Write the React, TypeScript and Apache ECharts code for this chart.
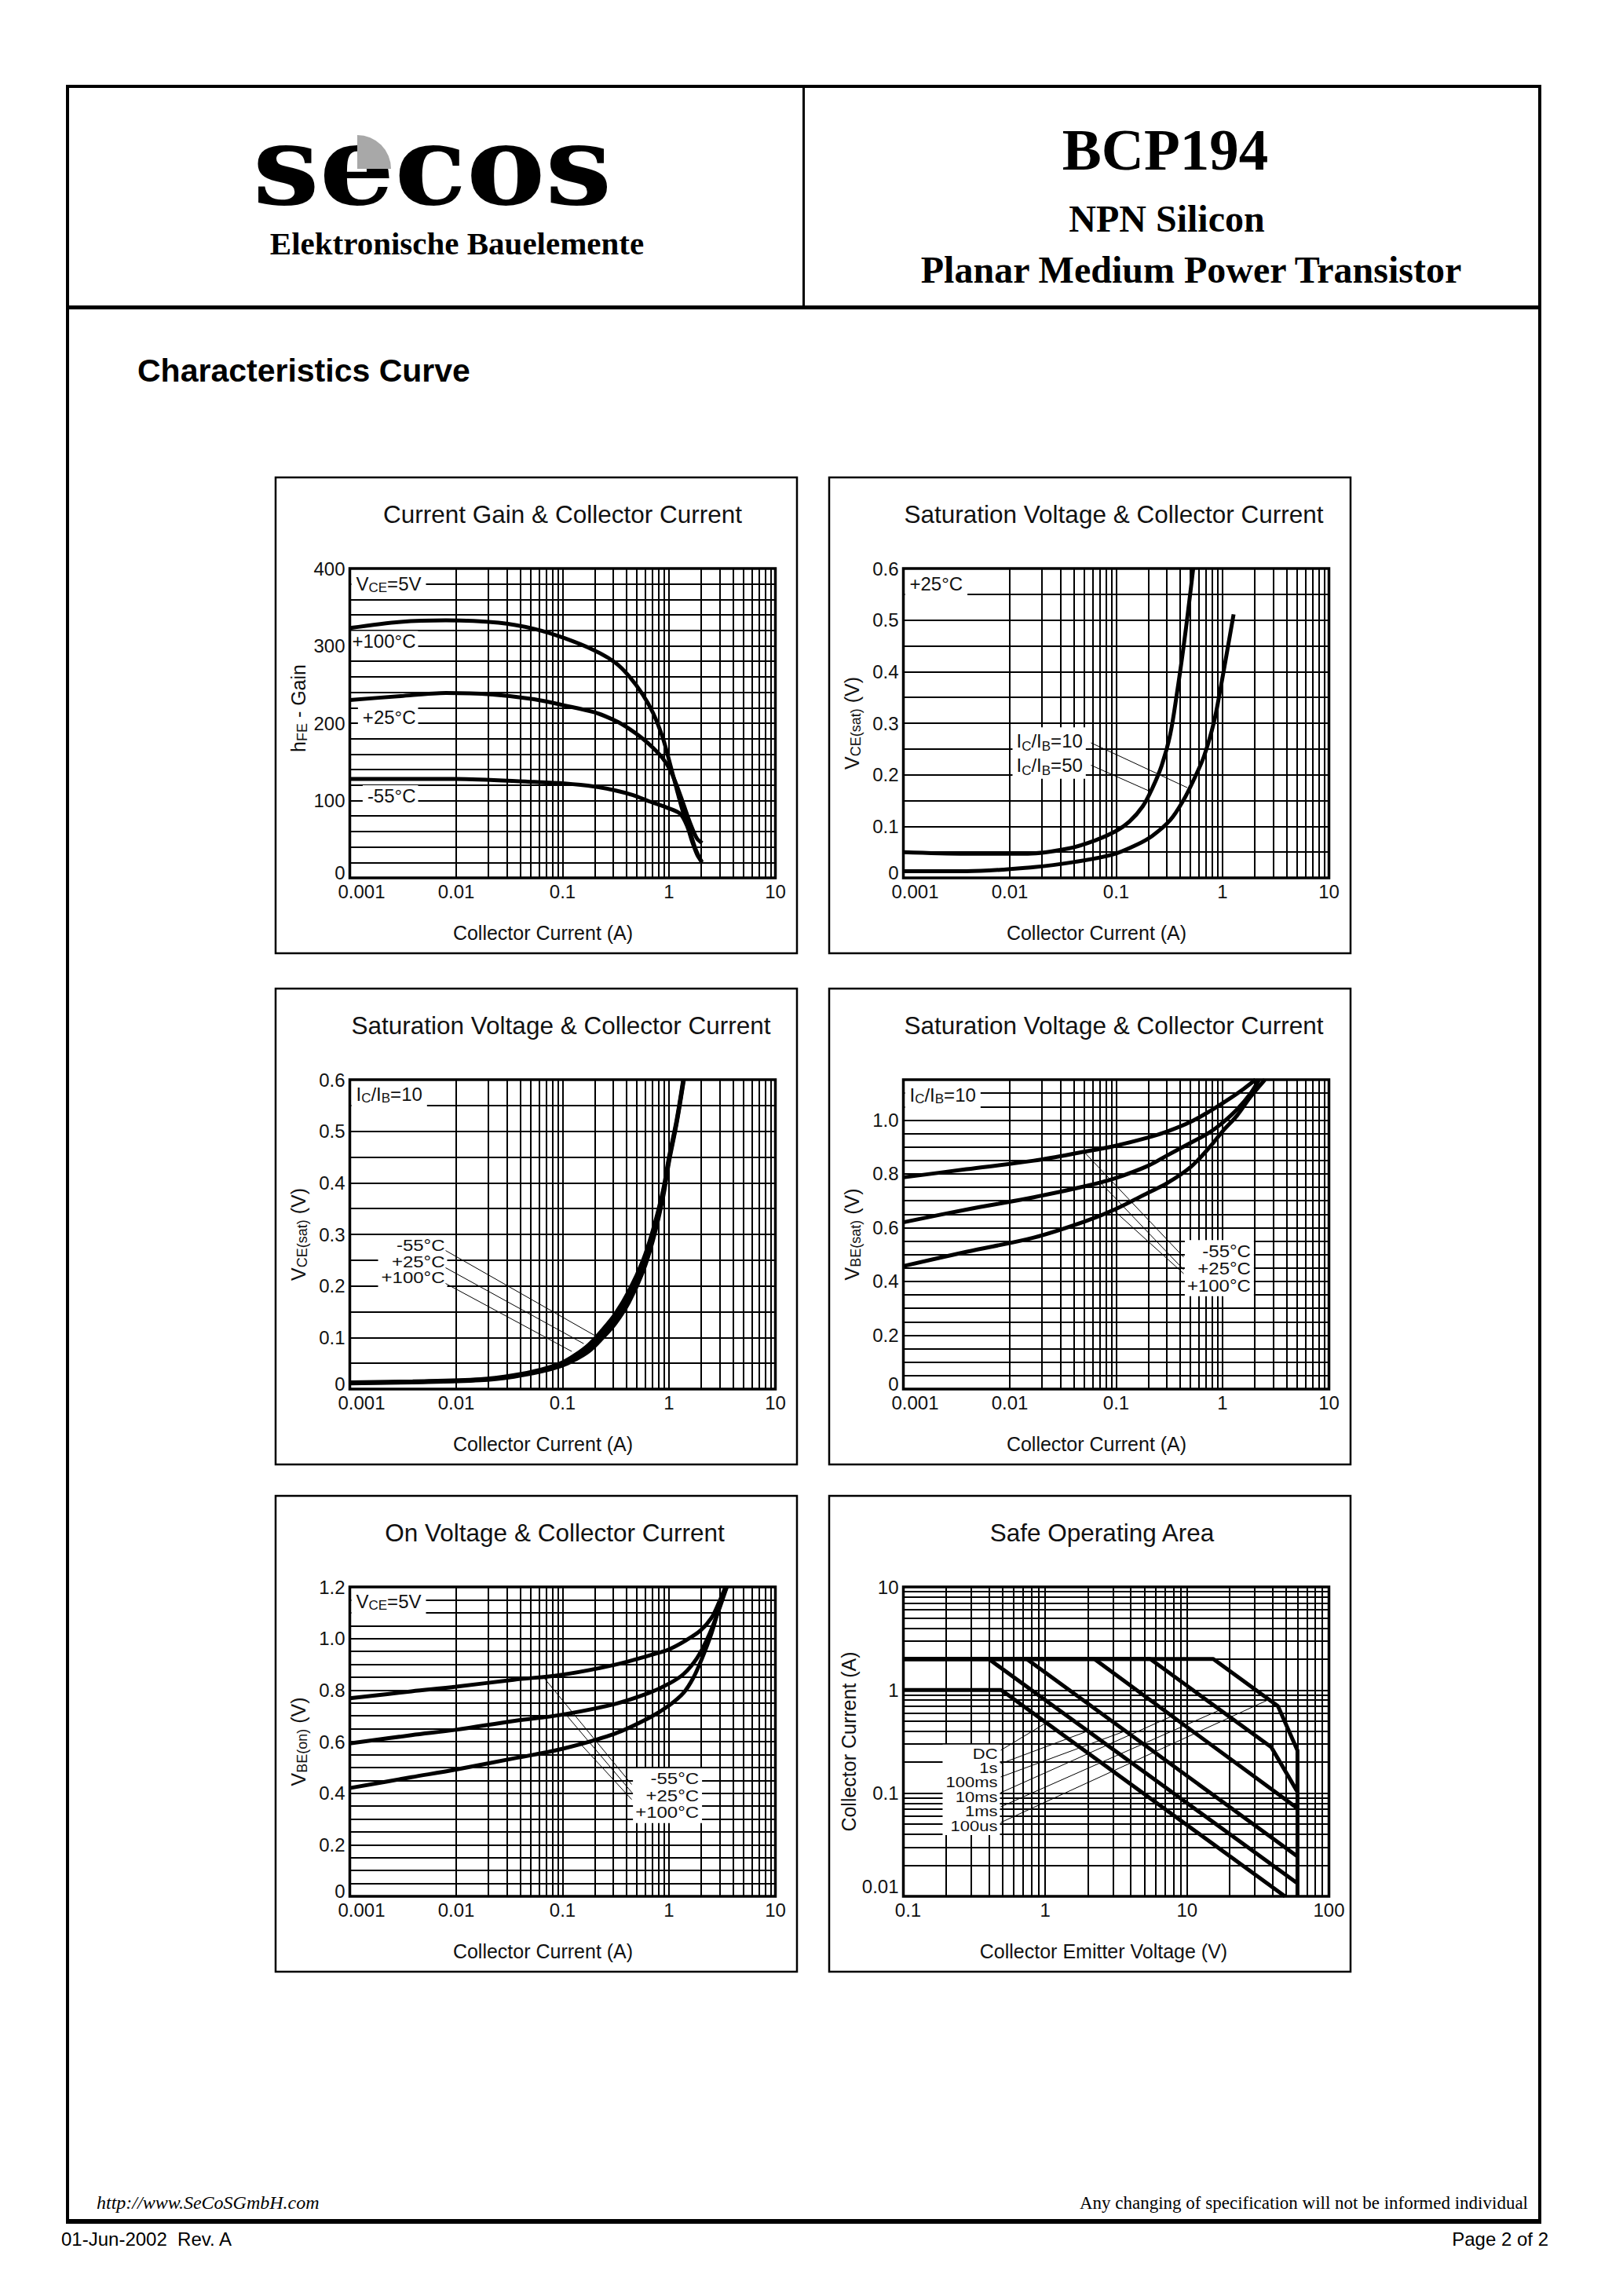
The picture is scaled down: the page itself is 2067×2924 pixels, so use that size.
import React, { useEffect, useRef } from "react";
import * as echarts from "echarts";

// ---------------- tick labels ----------------
const IC_TICKS = ["0.001", "0.01", "0.1", "1", "10"];
const VCE_TICKS = ["0.1", "1", "10", "100"];
const SOA_IC_TICKS = ["0.01", "0.1", "1", "10"];
const LOG_STEPS = [1, 2, 3, 4, 5, 6, 7, 8, 9];

// ---------------- chart 1: hFE vs Ic ----------------
const HFE_P100 = [[0.001, 323], [0.003, 331], [0.008, 333], [0.025, 330], [0.054, 322], [0.104, 310], [0.2, 294], [0.315, 278], [0.42, 261], [0.567, 237], [0.71, 213], [0.88, 180], [1.02, 148], [1.18, 115], [1.37, 83], [1.58, 59], [1.77, 38], [2.0, 22]];
const HFE_P25 = [[0.001, 230], [0.003, 235], [0.008, 239], [0.022, 237], [0.054, 231], [0.104, 223], [0.2, 214], [0.315, 203], [0.42, 193], [0.567, 180], [0.71, 168], [0.88, 154], [1.02, 140], [1.18, 120], [1.37, 95], [1.58, 71], [1.83, 51], [2.05, 45]];
const HFE_M55 = [[0.001, 128], [0.01, 128], [0.054, 124], [0.104, 122], [0.2, 118], [0.315, 113], [0.46, 107], [0.65, 99], [0.95, 91], [1.27, 83], [1.48, 67], [1.65, 47], [1.84, 30], [2.05, 20]];

// ---------------- chart 2: VCE(sat) vs Ic, +25C ----------------
const VCESAT_B10 = [[0.001, 0.05], [0.0039, 0.047], [0.0148, 0.047], [0.0357, 0.057], [0.064, 0.073], [0.1, 0.091], [0.133, 0.109], [0.178, 0.139], [0.22, 0.175], [0.268, 0.218], [0.322, 0.278], [0.372, 0.357], [0.43, 0.448], [0.48, 0.526], [0.53, 0.6]];
const VCESAT_B50 = [[0.001, 0.013], [0.0039, 0.013], [0.017, 0.021], [0.041, 0.031], [0.092, 0.045], [0.155, 0.064], [0.22, 0.082], [0.322, 0.112], [0.43, 0.151], [0.53, 0.188], [0.67, 0.236], [0.83, 0.302], [0.96, 0.369], [1.11, 0.442], [1.27, 0.511]];

// ---------------- chart 3: VCE(sat) vs Ic, Ic/Ib = 10 ----------------
const VCESAT_M55 = [[0.001, 0.013], [0.0039, 0.015], [0.0168, 0.019], [0.035, 0.027], [0.063, 0.038], [0.098, 0.051], [0.131, 0.066], [0.176, 0.086], [0.235, 0.114], [0.313, 0.146], [0.42, 0.19], [0.57, 0.25], [0.71, 0.31], [0.88, 0.386], [1.0, 0.45], [1.18, 0.522], [1.36, 0.6]];
const VCESAT_P25 = [[0.001, 0.012], [0.0039, 0.014], [0.0168, 0.018], [0.035, 0.0255], [0.063, 0.036], [0.098, 0.048], [0.131, 0.061], [0.176, 0.079], [0.235, 0.106], [0.313, 0.136], [0.42, 0.179], [0.57, 0.239], [0.71, 0.3], [0.88, 0.379], [1.0, 0.445], [1.18, 0.518], [1.37, 0.6]];
const VCESAT_P100 = [[0.001, 0.011], [0.0039, 0.013], [0.0168, 0.017], [0.035, 0.024], [0.063, 0.034], [0.098, 0.045], [0.131, 0.057], [0.176, 0.073], [0.235, 0.098], [0.313, 0.127], [0.42, 0.168], [0.57, 0.228], [0.71, 0.29], [0.88, 0.372], [1.0, 0.44], [1.18, 0.515], [1.38, 0.6]];

// ---------------- chart 4: VBE(sat) vs Ic ----------------
const VBESAT_M55 = [[0.001, 0.787], [0.0039, 0.817], [0.0168, 0.849], [0.05, 0.882], [0.1, 0.905], [0.2, 0.935], [0.3, 0.957], [0.5, 0.993], [0.76, 1.033], [1.18, 1.081], [1.58, 1.116], [2.04, 1.15]];
const VBESAT_P25 = [[0.001, 0.62], [0.0039, 0.667], [0.0168, 0.713], [0.0537, 0.756], [0.1, 0.785], [0.2, 0.83], [0.3, 0.868], [0.5, 0.915], [0.76, 0.955], [1.0, 0.99], [1.37, 1.04], [1.84, 1.1], [2.2, 1.15]];
const VBESAT_P100 = [[0.001, 0.457], [0.0039, 0.51], [0.0168, 0.563], [0.05, 0.622], [0.1, 0.67], [0.2, 0.73], [0.3, 0.765], [0.5, 0.825], [0.76, 0.9], [1.0, 0.958], [1.37, 1.017], [1.84, 1.087], [2.5, 1.15]];

// ---------------- chart 5: VBE(on) vs Ic ----------------
const VBEON_M55 = [[0.001, 0.768], [0.0038, 0.795], [0.01, 0.813], [0.0346, 0.84], [0.097, 0.859], [0.31, 0.898], [0.65, 0.934], [1.0, 0.958], [1.46, 0.994], [1.98, 1.031], [2.5, 1.079], [2.95, 1.14], [3.4, 1.2]];
const VBEON_P25 = [[0.001, 0.593], [0.0038, 0.625], [0.01, 0.646], [0.0346, 0.68], [0.097, 0.704], [0.31, 0.746], [0.65, 0.789], [1.0, 0.825], [1.37, 0.862], [1.84, 0.925], [2.3, 1.0], [2.88, 1.1], [3.3, 1.17], [3.5, 1.2]];
const VBEON_P100 = [[0.001, 0.42], [0.0038, 0.462], [0.01, 0.492], [0.0346, 0.535], [0.097, 0.571], [0.31, 0.631], [0.65, 0.692], [1.0, 0.74], [1.37, 0.789], [1.7, 0.849], [2.04, 0.922], [2.5, 1.018], [2.88, 1.103], [3.3, 1.176], [3.5, 1.2]];

// ---------------- chart 6: Safe Operating Area ----------------
const SOA_DC = [[0.1, 1], [0.49, 1], [49, 0.01]];
const SOA_1S = [[0.1, 2], [0.4, 2], [59, 0.0136]];
const SOA_100MS = [[0.1, 2], [0.74, 2], [59.5, 0.0246]];
const SOA_10MS = [[0.1, 2], [2.22, 2], [59.5, 0.072]];
const SOA_1MS = [[0.1, 2], [5.5, 2], [39.2, 0.28], [59.5, 0.105]];
const SOA_100US = [[0.1, 2], [15.3, 2], [43.7, 0.7], [60, 0.26], [60, 0.01]];

// ---------------- styling / layout ----------------
const FONT = '"Liberation Sans", Arial, Helvetica, sans-serif';
const SERIF = '"Liberation Serif", "Times New Roman", serif';
const INK = "#111";
const PAGE_W = 2067;
const PAGE_H = 2924;
const BOX_W = 664;
const BOX_H = 606;
const PLOT_DX = 94.5;
const PLOT_DY = 116;
const PLOT_W = 542;
const PLOT_H = 394;
const BOXES = [[351, 608], [1056, 608], [351, 1259], [1056, 1259], [351, 1905], [1056, 1905]];

function logGrid(lo: number, decades: number) {
  const out: number[] = [];
  for (let d = 0; d < decades; d++) {
    const base = lo * Math.pow(10, d);
    for (const m of LOG_STEPS) out.push(+(base * m).toPrecision(6));
  }
  out.push(+(lo * Math.pow(10, decades)).toPrecision(6));
  return out;
}
function linGrid(max: number, step: number) {
  const out: number[] = [];
  for (let k = 0; k * step <= max + 1e-9; k++) out.push(+(k * step).toFixed(4));
  return out;
}
function pickTick(labels: string[], v: number) {
  for (const l of labels) if (Math.abs(Math.log10(+l) - Math.log10(v)) < 1e-4) return l;
  return "";
}

const IC_GRID = logGrid(0.001, 4);
const VCE_GRID = logGrid(0.1, 3);
const SOA_IC_GRID = logGrid(0.01, 3);
const HFE_GRID = linGrid(400, 20);
const VSAT_GRID = linGrid(0.6, 0.05);
const VBES_GRID = linGrid(1.15, 0.05);
const VBEON_GRID = linGrid(1.2, 0.05);

const ICIB10 = "{n|I}{s|C}{n|/I}{s|B}{n|=10}";
const ICIB50 = "{n|I}{s|C}{n|/I}{s|B}{n|=50}";
const VCE5V = "{n|V}{s|CE}{n|=5V}";
const TEMPS = "-55°C\n+25°C\n+100°C";

const zeroFmt = (v: number, dec: number) => (Math.abs(v) < 1e-9 ? "{z|0}" : dec === 0 ? String(Math.round(v)) : v.toFixed(dec));

type Note = { text: string; x: number; y: number; align: "left" | "right"; lh: number; pad: number[]; size?: number };
type Leader = { from: number[]; to: number[] };

const CHARTS: any[] = [
  {
    title: "Current Gain & Collector Current", titleDx: 0,
    xMin: 0.001, xMax: 10, xTicks: IC_TICKS, xGrid: IC_GRID, xFirstPad: 30, xName: "Collector Current (A)", xNamePad: 50,
    yLog: false, yMin: 0, yMax: 400, yInterval: 100, yGrid: HFE_GRID, yDec: 0,
    yName: "{n|h}{s|FE}{n| - Gain}", yNamePad: [0, 0, 0, 38], yNameGap: 52,
    curves: [HFE_P100, HFE_P25, HFE_M55], smooth: 0.3,
    notes: [
      { text: VCE5V, x: 8, y: 19, align: "left", lh: 28, pad: [3, 6, 3, 6] },
      { text: "+100°C", x: 84, y: 92.6, align: "right", lh: 24, pad: [1, 3, 1, 6] },
      { text: "+25°C", x: 84, y: 189, align: "right", lh: 24, pad: [1, 3, 1, 6] },
      { text: "-55°C", x: 84, y: 289, align: "right", lh: 24, pad: [1, 3, 1, 6] },
    ] as Note[],
    leaders: [] as Leader[],
  },
  {
    title: "Saturation Voltage & Collector Current", titleDx: -3,
    xMin: 0.001, xMax: 10, xTicks: IC_TICKS, xGrid: IC_GRID, xFirstPad: 30, xName: "Collector Current (A)", xNamePad: 50,
    yLog: false, yMin: 0, yMax: 0.6, yInterval: 0.1, yGrid: VSAT_GRID, yDec: 1,
    yName: "{n|V}{s|CE(sat)}{n| (V)}", yNamePad: [0, 0, 0, 0], yNameGap: 52,
    curves: [VCESAT_B10, VCESAT_B50], smooth: 0.35,
    notes: [
      { text: "+25°C", x: 8, y: 19, align: "left", lh: 28, pad: [3, 6, 3, 6] },
      { text: ICIB10 + "\n" + ICIB50, x: 144, y: 219.6, align: "left", lh: 30.7, pad: [2, 4, 2, 5] },
    ] as Note[],
    leaders: [
      { from: [239, 222], to: [0.466, 0.175] },
      { from: [239, 250.5], to: [0.207, 0.168] },
    ] as Leader[],
  },
  {
    title: "Saturation Voltage & Collector Current", titleDx: -2,
    xMin: 0.001, xMax: 10, xTicks: IC_TICKS, xGrid: IC_GRID, xFirstPad: 30, xName: "Collector Current (A)", xNamePad: 50,
    yLog: false, yMin: 0, yMax: 0.6, yInterval: 0.1, yGrid: VSAT_GRID, yDec: 1,
    yName: "{n|V}{s|CE(sat)}{n| (V)}", yNamePad: [0, 0, 0, 0], yNameGap: 52,
    curves: [VCESAT_M55, VCESAT_P25, VCESAT_P100], smooth: 0.35,
    notes: [
      { text: ICIB10, x: 8, y: 18, align: "left", lh: 28, pad: [3, 6, 3, 6] },
      { text: TEMPS, x: 121, y: 211.6, align: "right", lh: 20.5, pad: [3, 3, 3, 4] },
    ] as Note[],
    leaders: [
      { from: [122, 217.6], to: [0.204, 0.103] },
      { from: [122, 239.5], to: [0.158, 0.088] },
      { from: [122, 259.5], to: [0.122, 0.073] },
    ] as Leader[],
  },
  {
    title: "Saturation Voltage & Collector Current", titleDx: -3,
    xMin: 0.001, xMax: 10, xTicks: IC_TICKS, xGrid: IC_GRID, xFirstPad: 30, xName: "Collector Current (A)", xNamePad: 50,
    yLog: false, yMin: 0, yMax: 1.15, yInterval: 0.2, yGrid: VBES_GRID, yDec: 1,
    yName: "{n|V}{s|BE(sat)}{n| (V)}", yNamePad: [0, 0, 0, 0], yNameGap: 52,
    curves: [VBESAT_M55, VBESAT_P25, VBESAT_P100], smooth: 0.35,
    notes: [
      { text: ICIB10, x: 8, y: 19, align: "left", lh: 28, pad: [3, 6, 3, 6] },
      { text: TEMPS, x: 442.4, y: 218, align: "right", lh: 22, pad: [3, 4, 3, 3] },
    ] as Note[],
    leaders: [
      { from: [357, 226], to: [0.0498, 0.882] },
      { from: [357, 242], to: [0.0703, 0.77] },
      { from: [357, 247], to: [0.094, 0.666] },
    ] as Leader[],
  },
  {
    title: "On Voltage & Collector Current", titleDx: -10,
    xMin: 0.001, xMax: 10, xTicks: IC_TICKS, xGrid: IC_GRID, xFirstPad: 30, xName: "Collector Current (A)", xNamePad: 50,
    yLog: false, yMin: 0, yMax: 1.2, yInterval: 0.2, yGrid: VBEON_GRID, yDec: 1,
    yName: "{n|V}{s|BE(on)}{n| (V)}", yNamePad: [0, 0, 0, 0], yNameGap: 52,
    curves: [VBEON_M55, VBEON_P25, VBEON_P100], smooth: 0.35,
    notes: [
      { text: VCE5V, x: 8, y: 18, align: "left", lh: 28, pad: [3, 6, 3, 6] },
      { text: TEMPS, x: 444.6, y: 244.3, align: "right", lh: 21.5, pad: [3, 4, 3, 3] },
    ] as Note[],
    leaders: [
      { from: [359, 251.5], to: [0.067, 0.847] },
      { from: [359, 261.5], to: [0.103, 0.714] },
      { from: [359, 270.7], to: [0.14, 0.601] },
    ] as Leader[],
  },
  {
    title: "Safe Operating Area", titleDx: -18,
    xMin: 0.1, xMax: 100, xTicks: VCE_TICKS, xGrid: VCE_GRID, xFirstPad: 12, xName: "Collector Emitter Voltage (V)", xNamePad: 32,
    yLog: true, yMin: 0.01, yMax: 10, yTicks: SOA_IC_TICKS, yGrid: SOA_IC_GRID,
    yName: "Collector Current (A)", yNamePad: [0, 0, 0, 0], yNameGap: 57,
    curves: [SOA_DC, SOA_1S, SOA_100MS, SOA_10MS, SOA_1MS, SOA_100US], smooth: 0,
    notes: [
      { text: "DC\n1s\n100ms\n10ms\n1ms\n100us", x: 120, y: 212.4, align: "right", lh: 18.4, pad: [3, 3, 3, 4], size: 22 },
    ] as Note[],
    leaders: [
      { from: [124, 208], to: [1.03, 0.487] },
      { from: [124, 225], to: [1.99, 0.4] },
      { from: [124, 242], to: [3.65, 0.4] },
      { from: [124, 262], to: [7.9, 0.562] },
      { from: [124, 280], to: [17.1, 0.643] },
      { from: [124, 300], to: [37, 0.8] },
    ] as Leader[],
  },
];

const NAME_RICH = {
  n: { fontSize: 25, fontFamily: FONT, color: INK, lineHeight: 28 },
  s: { fontSize: 18, fontFamily: FONT, color: INK, lineHeight: 21, verticalAlign: "bottom" },
};

function buildOption() {
  const grid: any[] = [];
  const xAxis: any[] = [];
  const yAxis: any[] = [];
  const series: any[] = [];
  CHARTS.forEach((c, i) => {
    const [bx, by] = BOXES[i];
    grid.push({ left: bx + PLOT_DX, top: by + PLOT_DY, width: PLOT_W, height: PLOT_H, show: false });
    xAxis.push({
      gridIndex: i, type: "log", logBase: 10, min: c.xMin, max: c.xMax, splitNumber: c.xTicks.length - 1,
      axisLine: { show: false }, axisTick: { show: false }, splitLine: { show: false },
      axisLabel: {
        fontSize: 24, fontFamily: FONT, color: INK, margin: 5,
        formatter: (v: number) => {
          const t = pickTick(c.xTicks, v);
          return t === c.xTicks[0] ? `{f|${t}}` : t;
        },
        rich: { f: { fontSize: 24, fontFamily: FONT, color: INK, padding: [0, 0, 0, c.xFirstPad] } },
      },
      name: c.xName, nameLocation: "middle", nameGap: 57,
      nameTextStyle: { fontSize: 25, fontFamily: FONT, color: INK, padding: [0, c.xNamePad, 0, 0] },
    });
    const yBase: any = {
      gridIndex: i, min: c.yMin, max: c.yMax,
      axisLine: { show: false }, axisTick: { show: false }, splitLine: { show: false },
      name: c.yName, nameLocation: "middle", nameGap: c.yNameGap, nameRotate: 90,
      nameTextStyle: { fontSize: 25, fontFamily: FONT, color: INK, padding: c.yNamePad, rich: NAME_RICH },
    };
    if (c.yLog) {
      yBase.type = "log";
      yBase.logBase = 10;
      yBase.splitNumber = c.yTicks.length - 1;
      yBase.axisLabel = {
        fontSize: 24, fontFamily: FONT, color: INK, margin: 6,
        formatter: (v: number) => {
          const t = pickTick(c.yTicks, v);
          return t === c.yTicks[0] ? `{z|${t}}` : t;
        },
        rich: { z: { fontSize: 24, fontFamily: FONT, color: INK, padding: [0, 0, 26, 0] } },
      };
    } else {
      yBase.type = "value";
      yBase.interval = c.yInterval;
      yBase.axisLabel = {
        fontSize: 24, fontFamily: FONT, color: INK, margin: 6, showMaxLabel: c.yMax === 1.15 ? false : undefined,
        formatter: (v: number) => zeroFmt(v, c.yDec),
        rich: { z: { fontSize: 24, fontFamily: FONT, color: INK, padding: [0, 0, 14, 0] } },
      };
    }
    yAxis.push(yBase);
    series.push({
      type: "line", xAxisIndex: i, yAxisIndex: i, data: [], silent: true, z: 1,
      markLine: {
        silent: true, symbol: ["none", "none"], z: 1, animation: false,
        label: { show: false },
        lineStyle: { color: "#000", width: 2, type: "solid" },
        emphasis: { disabled: true },
        data: [...c.xGrid.map((v: number) => ({ xAxis: v })), ...c.yGrid.map((v: number) => ({ yAxis: v }))],
      },
    });
    c.curves.forEach((d: number[][]) => {
      series.push({
        type: "line", xAxisIndex: i, yAxisIndex: i, data: d, showSymbol: false, symbol: "none",
        smooth: c.smooth, silent: true, z: 3, lineStyle: { color: "#000", width: 5 },
      });
    });
  });
  return {
    animation: false,
    backgroundColor: "#fff",
    grid, xAxis, yAxis, series,
  };
}

function noteRich(lh: number, size: number) {
  return {
    n: { font: `${size}px ${FONT}`, fill: INK, lineHeight: lh },
    s: { font: `${Math.round(size * 0.71)}px ${FONT}`, fill: INK, lineHeight: Math.round(lh * 0.75), verticalAlign: "bottom" },
  };
}

function txt(text: string, x: number, y: number, font: string, align = "left", vAlign = "middle", extra: any = {}, el: any = {}) {
  return {
    type: "text", x, y, z: 60, ...el,
    style: { text, font, fill: "#000", textAlign: align, textVerticalAlign: vAlign, ...extra },
  };
}

function buildGraphics(chart: any) {
  const els: any[] = [];
  const rect = (x: number, y: number, w: number, h: number) => ({ type: "rect", z: 60, shape: { x, y, width: w, height: h }, style: { fill: "#000" } });
  // page frame
  els.push(rect(84, 108, 1879, 4));
  els.push(rect(84, 108, 4, 2722));
  els.push(rect(1959, 108, 4, 2722));
  els.push(rect(84, 389, 1879, 5));
  els.push(rect(1022, 108, 3, 283));
  els.push(rect(84, 2826, 1879, 6));
  // header
  els.push(txt("secos", 322, 211, `bold 140px "DejaVu Serif", serif`, "left", "middle", {}, { scaleX: 1.075 }));
  els.push({ type: "sector", z: 61, shape: { cx: 455, cy: 215, r: 43, r0: 0, startAngle: -Math.PI / 2, endAngle: 0, clockwise: true }, style: { fill: "#a8a8a8" } });
  els.push(txt("Elektronische Bauelemente", 582, 310, `bold 41px ${SERIF}`, "center"));
  els.push(txt("BCP194", 1484, 190, `bold 75px ${SERIF}`, "center"));
  els.push(txt("NPN Silicon", 1486, 278, `bold 48px ${SERIF}`, "center"));
  els.push(txt("Planar Medium Power Transistor", 1517, 343, `bold 48px ${SERIF}`, "center"));
  els.push(txt("Characteristics Curve", 175, 472, `bold 41px ${FONT}`));
  // footer
  els.push(txt("http://www.SeCoSGmbH.com", 123, 2805, `italic 24px ${SERIF}`));
  els.push(txt("Any changing of specification will not be informed individual", 1946, 2805, `23px ${SERIF}`, "right"));
  els.push(txt("01-Jun-2002  Rev. A", 78, 2851, `24px ${FONT}`));
  els.push(txt("Page 2 of 2", 1972, 2851, `24px ${FONT}`, "right"));

  CHARTS.forEach((c, i) => {
    const [bx, by] = BOXES[i];
    const pl = bx + PLOT_DX;
    const pt = by + PLOT_DY;
    els.push({ type: "rect", z: 60, shape: { x: bx, y: by, width: BOX_W, height: BOX_H }, style: { fill: "none", stroke: "#000", lineWidth: 2.5 } });
    els.push(txt(c.title, pl + PLOT_W / 2 + c.titleDx, by + 47, `31.5px ${FONT}`, "center", "middle", { fill: INK }));
    (c.notes as Note[]).forEach((n) => {
      const size = n.size || 24;
      const multi = n.text.indexOf("\n") >= 0 && n.text.indexOf("{") < 0;
      // tightly stacked lines: squeeze vertically so lines keep the reference spacing without overlapping
      const sy = multi && n.lh < size ? (n.lh - 0.4) / size : 1;
      const lh = n.lh / sy;
      const [pT, pR, , pL] = n.pad;
      const x = n.align === "left" ? pl + n.x - pL : pl + n.x + pR;
      const y = pt + n.y - (pT + lh / 2) * sy;
      els.push({
        type: "text", x, y, z: 50, scaleY: sy,
        style: {
          text: n.text, font: `${size}px ${FONT}`, fill: INK, lineHeight: lh,
          textAlign: n.align, textVerticalAlign: "top",
          backgroundColor: "#fff", padding: n.pad,
          rich: noteRich(lh, size),
        },
      });
    });
    (c.leaders as Leader[]).forEach((l) => {
      const p = chart.convertToPixel({ gridIndex: i }, l.to);
      els.push({ type: "line", z: 55, shape: { x1: pl + l.from[0], y1: pt + l.from[1], x2: p[0], y2: p[1] }, style: { stroke: "#000", lineWidth: 1 } });
    });
    els.push({ type: "rect", z: 60, shape: { x: pl, y: pt, width: PLOT_W, height: PLOT_H }, style: { fill: "none", stroke: "#000", lineWidth: 3.5 } });
  });
  return els;
}

export default function App() {
  const ref = useRef<HTMLDivElement>(null);
  useEffect(() => {
    if (!ref.current) return;
    const chart = echarts.init(ref.current, undefined, { renderer: "svg", width: PAGE_W, height: PAGE_H });
    chart.setOption(buildOption() as any);
    chart.setOption({ graphic: { elements: buildGraphics(chart) } } as any);
    return () => chart.dispose();
  }, []);
  return <div ref={ref} style={{ position: "absolute", left: 0, top: 0, width: PAGE_W, height: PAGE_H }} />;
}
